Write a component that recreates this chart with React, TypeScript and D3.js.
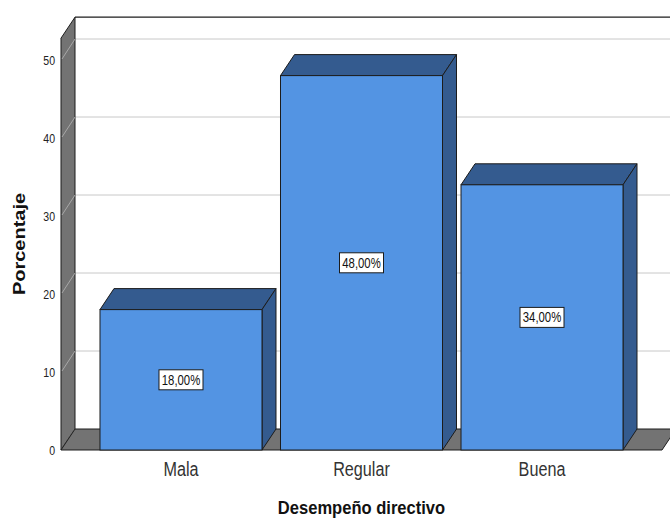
import React from "react";
import * as d3 from "d3";

const categories: string[] = ["Mala", "Regular", "Buena"];
const values: number[] = [18, 48, 34];
const valueLabels: string[] = ["18,00%", "48,00%", "34,00%"];
const yTicks: number[] = [0, 10, 20, 30, 40, 50];
const gridTicks: number[] = [10, 20, 30, 40, 50];
const xTitle = "Desempeño directivo";
const yTitle = "Porcentaje";

const W = 670;
const H = 518;
const DX = 14;
const DY = 21;
const FRONT = "#5394E3";
const DARK = "#345B8F";
const GRAY = "#737373";
const LINE = "#1c1c1c";

export default function App() {
  const y = d3.scaleLinear().domain([0, 50]).range([450, 60]);
  const x = d3
    .scaleBand<string>()
    .domain(categories)
    .range([61, 662])
    .paddingInner(0.1025)
    .paddingOuter(0.216);

  const x0 = 61;
  const x1 = 662;
  const yBase = y(0);
  const yTop = y(52.8);
  const poly = (pts: [number, number][]) => pts.map((p) => p.join(",")).join(" ");

  return (
    <svg
      width={W}
      height={H}
      style={{ position: "absolute", left: 0, top: 0, background: "#fff" }}
      fontFamily="'Liberation Sans', Arial, sans-serif"
    >
      {/* back wall */}
      <rect x={x0 + DX} y={yTop - DY} width={W} height={yBase - yTop} fill="#fff" />
      {gridTicks.map((t) => (
        <line
          key={"g" + t}
          x1={x0 + DX}
          x2={W}
          y1={y(t) - DY}
          y2={y(t) - DY}
          stroke="#c8c8c8"
          strokeWidth={1}
        />
      ))}
      <line x1={x0 + DX} x2={W} y1={yTop - DY} y2={yTop - DY} stroke={LINE} strokeWidth={1.2} />
      {/* left wall */}
      <polygon
        points={poly([
          [x0, yTop],
          [x0 + DX, yTop - DY],
          [x0 + DX, yBase - DY],
          [x0, yBase],
        ])}
        fill={GRAY}
        stroke={LINE}
        strokeWidth={1}
      />
      {yTicks.map((t) => (
        <line
          key={"s" + t}
          x1={x0 + 1}
          y1={y(t) - 1}
          x2={x0 + DX}
          y2={y(t) - DY}
          stroke="#a8a8a8"
          strokeWidth={1}
        />
      ))}
      {/* floor */}
      <polygon
        points={poly([
          [x0, yBase],
          [x1, yBase],
          [x1 + DX, yBase - DY],
          [x0 + DX, yBase - DY],
        ])}
        fill={GRAY}
        stroke={LINE}
        strokeWidth={1}
      />
      {/* bars */}
      {categories.map((c, i) => {
        const bx = x(c) as number;
        const bw = x.bandwidth();
        const top = y(values[i]);
        return (
          <g key={c}>
            <polygon
              points={poly([
                [bx, top],
                [bx + DX, top - DY],
                [bx + bw + DX, top - DY],
                [bx + bw, top],
              ])}
              fill={DARK}
              stroke={LINE}
              strokeWidth={1}
              strokeLinejoin="round"
            />
            <polygon
              points={poly([
                [bx + bw, top],
                [bx + bw + DX, top - DY],
                [bx + bw + DX, yBase - DY],
                [bx + bw, yBase],
              ])}
              fill={DARK}
              stroke={LINE}
              strokeWidth={1}
              strokeLinejoin="round"
            />
            <rect x={bx} y={top} width={bw} height={yBase - top} fill={FRONT} stroke={LINE} strokeWidth={1} />
          </g>
        );
      })}
      {/* value labels */}
      {categories.map((c, i) => {
        const cx = (x(c) as number) + x.bandwidth() / 2;
        const cy = (y(values[i]) + yBase) / 2;
        return (
          <g key={"l" + c} transform={`translate(${cx},${cy})`}>
            <rect x={-22} y={-10} width={44} height={20} fill="#fff" stroke={LINE} strokeWidth={1} />
            <text
              transform="scale(0.81,1)"
              textAnchor="middle"
              dy="0.36em"
              fontSize={14}
              fill="#111"
            >
              {valueLabels[i]}
            </text>
          </g>
        );
      })}
      {/* y tick labels */}
      {yTicks.map((t) => (
        <text
          key={"t" + t}
          transform={`translate(55,${y(t)}) scale(0.81,1)`}
          textAnchor="end"
          dy="0.36em"
          fontSize={13}
          fill="#222"
        >
          {t}
        </text>
      ))}
      {/* x category labels */}
      {categories.map((c) => (
        <text
          key={"x" + c}
          transform={`translate(${(x(c) as number) + x.bandwidth() / 2},476) scale(0.81,1)`}
          textAnchor="middle"
          fontSize={20}
          fill="#333"
        >
          {c}
        </text>
      ))}
      {/* axis titles */}
      <text
        transform="translate(361.5,514) scale(0.92,1)"
        textAnchor="middle"
        fontSize={18}
        fontWeight="bold"
        fill="#111"
      >
        {xTitle}
      </text>
      <text
        transform="translate(25,244) scale(0.84,1) rotate(-90)"
        textAnchor="middle"
        fontSize={20}
        fontWeight="bold"
        fill="#111"
      >
        {yTitle}
      </text>
    </svg>
  );
}
